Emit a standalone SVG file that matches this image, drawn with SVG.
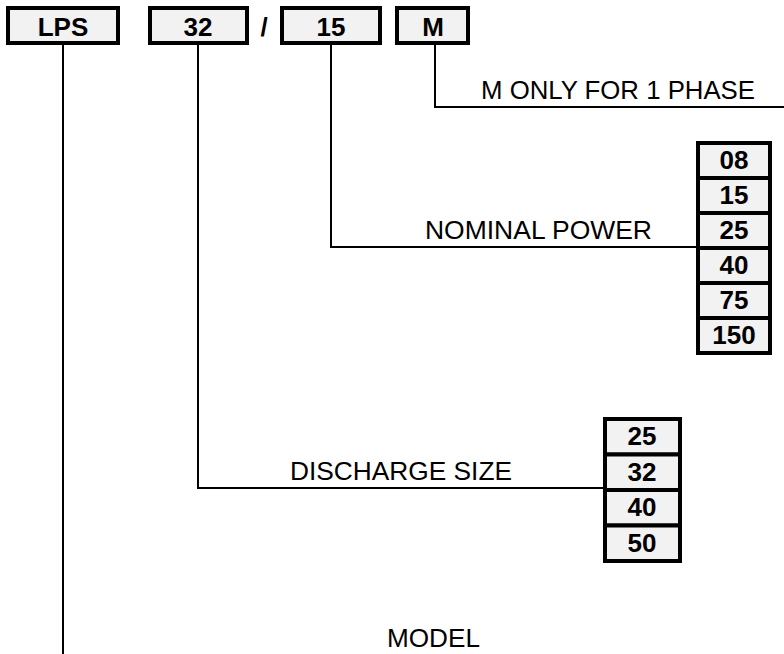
<svg xmlns="http://www.w3.org/2000/svg" width="784" height="654" viewBox="0 0 784 654">
<style>
.box{fill:#f2f2f2;stroke:#000;stroke-width:4}
.b{font-family:"Liberation Sans",Arial,sans-serif;font-weight:bold;font-size:26px;text-anchor:middle;fill:#000}
.t{font-family:"Liberation Sans",Arial,sans-serif;font-size:26px;fill:#000}
.ln{fill:none;stroke:#000;stroke-width:2}
</style>
<rect width="784" height="654" fill="#fff"/>
<g id="connectors">
<path class="ln" d="M63 45V654"/>
<path class="ln" d="M198 45V488H605"/>
<path class="ln" d="M331 45V247H698"/>
<path class="ln" d="M435 45V107H784"/>
</g>
<g id="node-lps"><rect class="box" x="8" y="8" width="110" height="35"/><text class="b" x="63" y="36">LPS</text></g>
<g id="node-32"><rect class="box" x="150" y="8" width="97" height="35"/><text class="b" x="198" y="36">32</text></g>
<text class="b" x="264" y="36">/</text>
<g id="node-15"><rect class="box" x="282" y="8" width="98" height="35"/><text class="b" x="331" y="36">15</text></g>
<g id="node-m"><rect class="box" x="397" y="8" width="71" height="35"/><text class="b" x="433" y="36">M</text></g>
<g id="label-m"><text class="t" x="481" y="99" textLength="274" lengthAdjust="spacingAndGlyphs">M ONLY FOR 1 PHASE</text></g>
<g id="label-power"><text class="t" x="425" y="239" textLength="227" lengthAdjust="spacingAndGlyphs">NOMINAL POWER</text></g>
<g id="label-discharge"><text class="t" x="290" y="480" textLength="222" lengthAdjust="spacingAndGlyphs">DISCHARGE SIZE</text></g>
<g id="label-model"><text class="t" x="387" y="647" textLength="93" lengthAdjust="spacingAndGlyphs">MODEL</text></g>
<g id="power-column">
<rect class="box" x="698" y="143" width="72" height="35"/><text class="b" x="734" y="169">08</text>
<rect class="box" x="698" y="178" width="72" height="35"/><text class="b" x="734" y="204">15</text>
<rect class="box" x="698" y="213" width="72" height="35"/><text class="b" x="734" y="239">25</text>
<rect class="box" x="698" y="248" width="72" height="35"/><text class="b" x="734" y="274">40</text>
<rect class="box" x="698" y="283" width="72" height="35"/><text class="b" x="734" y="309">75</text>
<rect class="box" x="698" y="318" width="72" height="35"/><text class="b" x="734" y="344">150</text>
</g>
<g id="discharge-column">
<rect class="box" x="605" y="419" width="75" height="35.5"/><text class="b" x="642" y="445">25</text>
<rect class="box" x="605" y="454.5" width="75" height="35.5"/><text class="b" x="642" y="481">32</text>
<rect class="box" x="605" y="490" width="75" height="35.5"/><text class="b" x="642" y="516">40</text>
<rect class="box" x="605" y="525.5" width="75" height="35.5"/><text class="b" x="642" y="552">50</text>
</g>
</svg>
